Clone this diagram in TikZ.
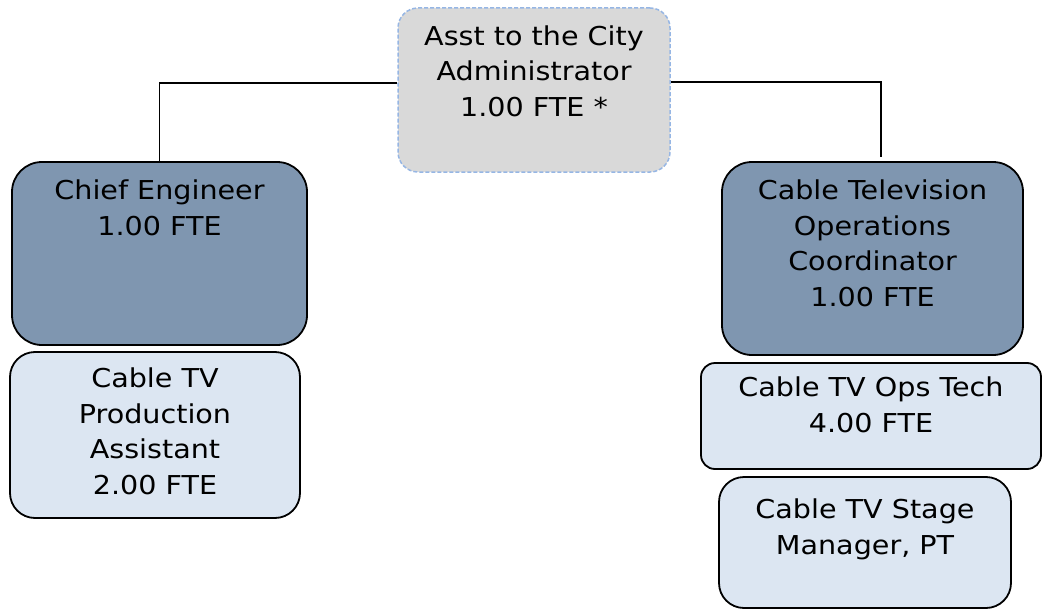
\documentclass[tikz,border=0pt]{standalone}
\usepackage{fontspec}
\setmainfont{DejaVu Sans}[FakeStretch=1.1]
\usetikzlibrary{calc}

\definecolor{headfill}{RGB}{127,150,176}
\definecolor{stafffill}{RGB}{220,230,242}
\definecolor{topfill}{RGB}{217,217,217}
\definecolor{topline}{RGB}{150,182,228}

\begin{document}
\begin{tikzpicture}[x=1pt,y=-1pt,
  orgbox/.style={rectangle, inner sep=0pt, draw=black, line width=1.8pt},
  headbox/.style={orgbox, fill=headfill},
  staffbox/.style={orgbox, fill=stafffill},
  topbox/.style={rectangle, inner sep=0pt, fill=topfill, draw=topline,
    line width=1.5pt, dash pattern=on 4pt off 2pt},
  lbl/.style={anchor=base, align=center, inner sep=0pt, text=black,
    font=\fontsize{26pt}{35.5pt}\selectfont},
  link/.style={draw=black, line width=1.9pt}]

\useasboundingbox (0,0) rectangle (1042,610);

% top position (labels are placed by the baseline of their last line)
\node[topbox, minimum width=272pt, minimum height=164pt, rounded corners=20pt]
  (admin) at (534,90) {};
\node[lbl] (admin-t) at ($(admin.north)+(0,109)$)
  {Asst to the City\\Administrator\\1.00 FTE *};

% left branch
\node[headbox, minimum width=295pt, minimum height=183pt, rounded corners=30pt]
  (chief) at (159.5,253.5) {};
\node[lbl] (chief-t) at ($(chief.north)+(0,74)$) {Chief Engineer\\1.00 FTE};

\node[staffbox, minimum width=290pt, minimum height=166pt, rounded corners=25pt]
  (prod) at (155,435) {};
\node[lbl] (prod-t) at ($(prod.north)+(0,143)$)
  {Cable TV\\Production\\Assistant\\2.00 FTE};

% right branch
\node[headbox, minimum width=301pt, minimum height=193pt, rounded corners=30pt]
  (ctoc) at (872.5,258.5) {};
\node[lbl] (ctoc-t) at ($(ctoc.north)+(0,145)$)
  {Cable Television\\Operations\\Coordinator\\1.00 FTE};

\node[staffbox, minimum width=340pt, minimum height=106pt, rounded corners=14pt]
  (ops) at (871,416) {};
\node[lbl] (ops-t) at ($(ops.north)+(0,70)$) {Cable TV Ops Tech\\4.00 FTE};

\node[staffbox, minimum width=292pt, minimum height=131pt, rounded corners=25pt]
  (stage) at (865,542.5) {};
\node[lbl] (stage-t) at ($(stage.north)+(0,78)$) {Cable TV Stage\\Manager, PT};

% reporting lines
\draw[link] ($(admin.west)+(0,-7)$) -| (chief.north);
\draw[link] ($(admin.east)+(0,-8)$) -| ($(ctoc.north)+(8.5,-4)$);

\end{tikzpicture}
\end{document}
